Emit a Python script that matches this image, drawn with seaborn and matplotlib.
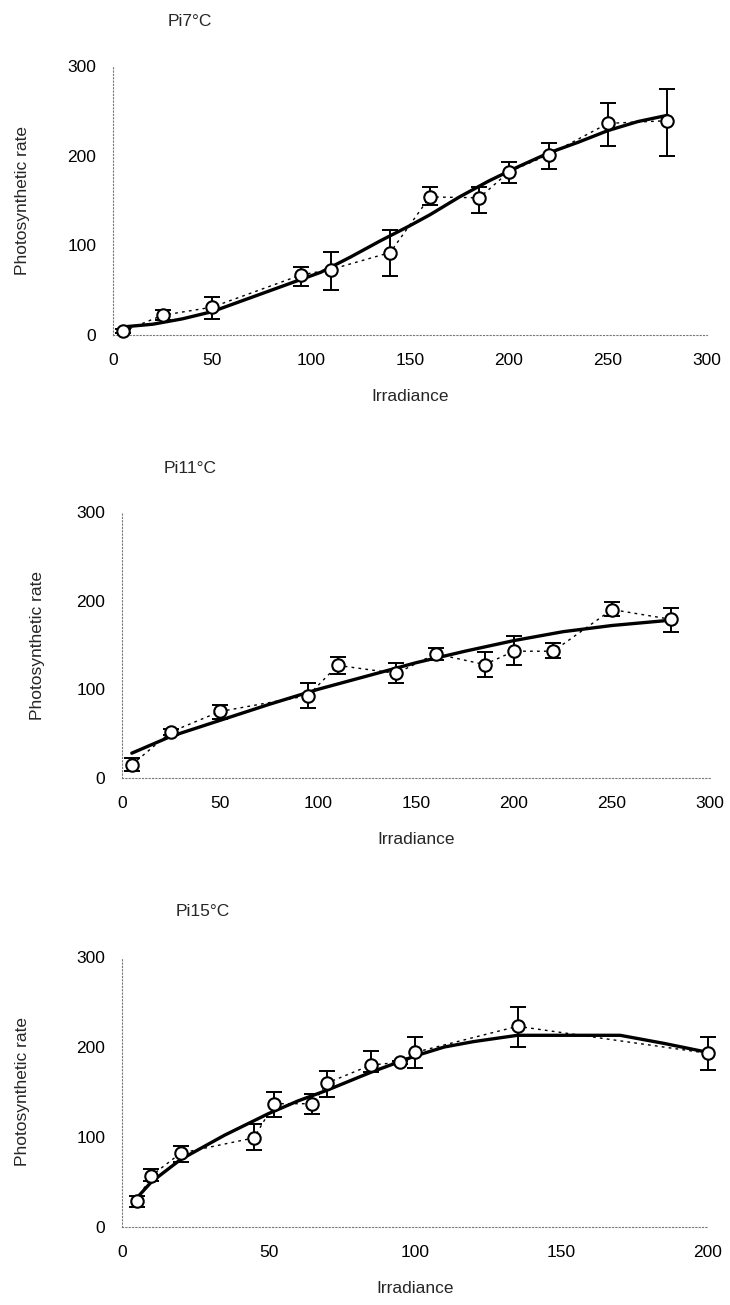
import numpy as np
import pandas as pd
import matplotlib
matplotlib.use("Agg")
import matplotlib.pyplot as plt
import seaborn as sns

# ---------------- data ----------------
titles = ["Pi7\u00b0C", "Pi11\u00b0C", "Pi15\u00b0C"]

# Panel 1 (7 °C)
x7 = [5, 25, 50, 95, 110, 140, 160, 185, 200, 220, 250, 280]
y7 = [4, 22, 31, 67, 73, 92, 154, 153, 182, 201, 236, 239]
hi7 = [7, 28, 42, 76, 93, 117, 165, 165, 193, 214, 259, 274]
lo7 = [2, 17, 18, 55, 50, 66, 145, 136, 169, 185, 211, 200]
fitx7 = [5, 20, 35, 50, 65, 80, 95, 105, 120, 135, 150, 160, 175, 190, 205, 220, 235, 250, 265, 280]
fity7 = [9, 12, 18, 26, 38, 50, 62, 70, 87, 105, 122, 134, 154, 172, 188, 203, 215, 228, 238, 245]

# Panel 2 (11 °C)
x11 = [5, 25, 50, 95, 110, 140, 160, 185, 200, 220, 250, 280]
y11 = [15, 52, 75, 93, 127, 118, 140, 128, 143, 143, 190, 179]
hi11 = [22, 55, 82, 107, 136, 130, 147, 142, 160, 152, 198, 192]
lo11 = [8, 48, 66, 79, 117, 107, 133, 114, 127, 135, 183, 165]
fitx11 = [5, 25, 50, 75, 100, 125, 150, 175, 200, 225, 250, 280]
fity11 = [28, 47, 65, 83, 100, 115, 130, 143, 155, 165, 172, 178]

# Panel 3 (15 °C)
x15 = [5, 10, 20, 45, 52, 65, 70, 85, 95, 100, 135, 200]
y15 = [29, 57, 82, 99, 137, 137, 160, 180, 183, 194, 223, 193]
hi15 = [34, 64, 90, 114, 150, 148, 173, 196, 185, 211, 244, 211]
lo15 = [22, 51, 72, 86, 122, 126, 144, 172, 181, 177, 200, 175]
fitx15 = [5, 10, 20, 35, 50, 60, 70, 85, 95, 100, 110, 120, 135, 150, 170, 185, 200]
fity15 = [32, 50, 75, 102, 126, 140, 152, 172, 184, 190, 200, 206, 213, 213, 213, 204, 194]

panels = [
    dict(x=x7, y=y7, hi=hi7, lo=lo7, fx=fitx7, fy=fity7, xmax=300, xticks=[0, 50, 100, 150, 200, 250, 300]),
    dict(x=x11, y=y11, hi=hi11, lo=lo11, fx=fitx11, fy=fity11, xmax=300, xticks=[0, 50, 100, 150, 200, 250, 300]),
    dict(x=x15, y=y15, hi=hi15, lo=lo15, fx=fitx15, fy=fity15, xmax=200, xticks=[0, 50, 100, 150, 200]),
]
yticks = [0, 100, 200, 300]

# ---------------- layout ----------------
W, H = 730, 1305
rects = [
    (113 / W, 1 - 335 / H, (707 - 113) / W, (335 - 66) / H),
    (122 / W, 1 - 778 / H, (710 - 122) / W, (778 - 512) / H),
    (122 / W, 1 - 1227 / H, (708 - 122) / W, (1227 - 957) / H),
]
title_pos = [(190, 22), (190, 468), (203, 912)]
ylab_x = [30, 45, 30]   # right edge of the rotated y label (px)

sns.set_theme(style="white")
plt.rcParams['font.family'] = ['Liberation Sans', 'DejaVu Sans']

fig = plt.figure(figsize=(W / 100, H / 100), dpi=100)
FS = 12.5

for i, p in enumerate(panels):
    ax = fig.add_axes(rects[i])
    df = pd.DataFrame({"x": p["x"], "y": p["y"]})
    fdf = pd.DataFrame({"x": p["fx"], "y": p["fy"]})
    # dotted line joining the means
    sns.lineplot(data=df, x="x", y="y", ax=ax, color="black", lw=1.0,
                 linestyle=(0, (2, 3)), estimator=None, sort=False, zorder=2)
    # fitted curve
    sns.lineplot(data=fdf, x="x", y="y", ax=ax, color="black", lw=2.4,
                 estimator=None, sort=False, zorder=3)
    y = np.array(p["y"]); hi = np.array(p["hi"]); lo = np.array(p["lo"])
    ax.errorbar(p["x"], y, yerr=[y - lo, hi - y], fmt="none", ecolor="black",
                elinewidth=1.4, capsize=6, capthick=1.4, zorder=4, clip_on=False)
    sns.scatterplot(data=df, x="x", y="y", ax=ax, marker="o", s=80,
                    facecolor="white", edgecolor="black", linewidth=1.5,
                    zorder=5, clip_on=False)

    ax.set_xlim(0, p["xmax"])
    ax.set_ylim(0, 300)
    ax.set_xticks(p["xticks"])
    ax.set_yticks(yticks)
    ax.set_xticklabels([str(t) for t in p["xticks"]], fontsize=FS)
    ax.set_yticklabels([str(t) for t in yticks], fontsize=FS)
    for s in ["top", "right"]:
        ax.spines[s].set_visible(False)
    for s in ["left", "bottom"]:
        ax.spines[s].set_color("#777777")
        ax.spines[s].set_linewidth(0.8)
        ax.spines[s].set_linestyle((0, (1, 2)))
    ax.tick_params(axis="both", direction="inout", length=6, width=0.8,
                   color="#777777", labelcolor="black")
    ax.tick_params(axis="x", pad=10)
    ax.tick_params(axis="y", pad=9)
    ax.set_xlabel("Irradiance", fontsize=FS)
    ax.set_ylabel("Photosynthetic rate", fontsize=FS)
    ax.xaxis.set_label_coords(0.5, -54 / (rects[i][3] * H))
    ax.yaxis.set_label_coords((ylab_x[i] - rects[i][0] * W) / (rects[i][2] * W), 0.5)
    ax.grid(False)
    tx, ty = title_pos[i]
    fig.text(tx / W, 1 - ty / H, titles[i], fontsize=FS, ha="center", va="center")

fig.savefig("out.png", dpi=100, facecolor="white")
